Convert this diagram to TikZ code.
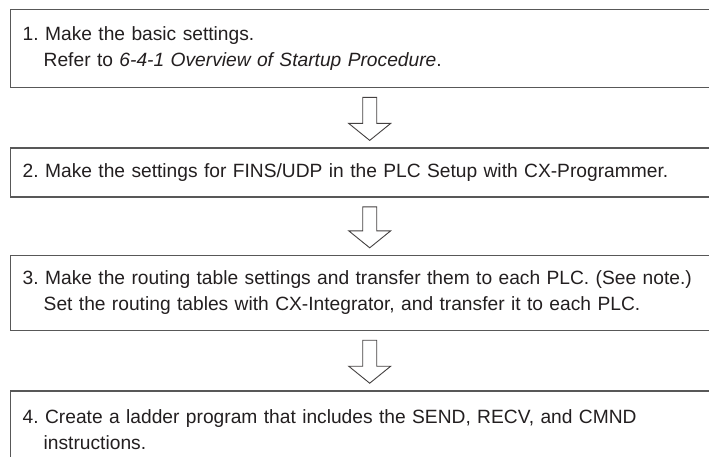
\documentclass[tikz,border=0pt]{standalone}
\usepackage{fontspec}
\setmainfont{Liberation Sans}
\usepackage{xcolor}
\usepackage{tikz}
\usetikzlibrary{positioning, calc}
\definecolor{stepgray}{RGB}{88,88,88}
\definecolor{stepink}{RGB}{35,31,32}
\frenchspacing

% hollow block arrow from one step box down to the next
\newcommand{\flowarrow}[2]{%
  \draw[hollowarr] ($(#1.south)+(-7,-9)$) -- ($(#2.north)+(-7,24)$)
    -- ($(#2.north)+(-21,24)$) -- ($(#2.north)+(0,7)$)
    -- ($(#2.north)+(21,24)$) -- ($(#2.north)+(7,24)$)
    -- ($(#1.south)+(7,-9)$) -- cycle;}

\begin{document}
\begin{tikzpicture}[
  x=1pt, y=1pt,
  stepbox/.style={rectangle, draw=stepgray, line width=1.4pt, fill=white,
                  text=stepink, minimum width=718pt, text width=694pt,
                  inner xsep=12pt, inner ysep=0pt, align=left,
                  font=\fontsize{19.2}{26}\selectfont},
  hollowarr/.style={draw=stepink!85, line width=0.9pt, fill=white,
                    line join=miter},
]
\useasboundingbox (0,0) rectangle (709,-456);
\clip (0,0) rectangle (709,-456);

% Steps
\node[stepbox, minimum height=78pt, anchor=north west] (s1) at (10,-9)
  {1. Make the basic settings.\\
   \hspace*{21pt}Refer to \textit{6-4-1 Overview of Startup Procedure}.};
\node[stepbox, minimum height=49pt, below=59pt of s1] (s2)
  {2. Make the settings for FINS/UDP in the PLC Setup with CX-Programmer.};
\node[stepbox, minimum height=75pt, below=57pt of s2] (s3)
  {3. Make the routing table settings and transfer them to each PLC. (See note.)\\
   \hspace*{21pt}Set the routing tables with CX-Integrator, and transfer it to each PLC.};
\node[stepbox, minimum height=78pt, below=59pt of s3] (s4)
  {4. Create a ladder program that includes the SEND, RECV, and CMND\\
   \hspace*{21pt}instructions.};

% Arrows between steps
\flowarrow{s1}{s2}
\flowarrow{s2}{s3}
\flowarrow{s3}{s4}

\end{tikzpicture}
\end{document}
